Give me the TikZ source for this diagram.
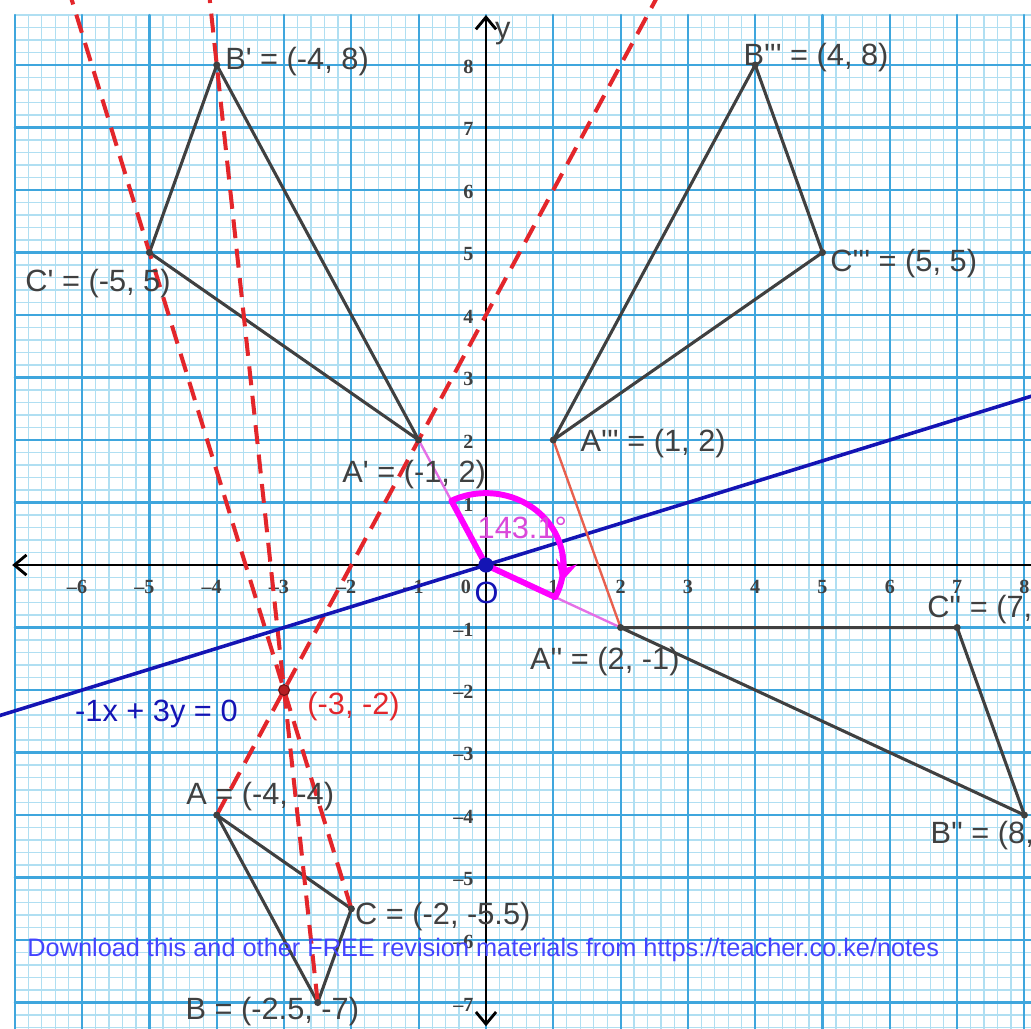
\documentclass[tikz,border=0pt]{standalone}
\usepackage{fontspec}
\setmainfont{Liberation Sans}
\newfontfamily\tickfont{Liberation Serif}
\usetikzlibrary{arrows.meta, calc}
\definecolor{gridmajor}{HTML}{3FA6DD}
\definecolor{gridminor}{HTML}{B0DFF2}
\definecolor{edgegray}{HTML}{404040}
\definecolor{dashred}{HTML}{E3262B}
\definecolor{linblue}{HTML}{1414B4}
\definecolor{angmag}{HTML}{FF00FF}
\definecolor{angtext}{HTML}{DA48DA}
\definecolor{pinkline}{HTML}{E46FE6}
\definecolor{salmon}{HTML}{E8604E}
\definecolor{notesblue}{HTML}{4444FF}
\newcommand{\pr}{\textquotesingle}

\begin{document}
\begin{tikzpicture}[x=1cm, y=0.9287cm, line cap=round, line join=round, font=\fontsize{13}{15}\selectfont,
  minorgrid/.style={gridminor, line width=0.5pt},
  majorgrid/.style={gridmajor, line width=0.9pt},
  axisline/.style={black, line width=1.2pt, {Straight Barb[length=1.8mm,width=3mm]}-{Straight Barb[length=1.8mm,width=3mm]}},
  ticklab/.style={font=\tickfont\bfseries\fontsize{8.5}{9}\selectfont, text=black!75, inner sep=0pt},
  tri/.style={edgegray, line width=1.3pt},
  trace/.style={dashred, line width=1.7pt, dash pattern=on 8pt off 4.5pt, line cap=butt},
  lab/.style={anchor=west, inner sep=0pt, text=edgegray}]

% --- Cornice ---
\useasboundingbox (-7.221,-7.408) rectangle (8.098,9.04);
\clip (-7.221,-7.408) rectangle (8.098,9.04);
\fill[white] (-7.221,-7.408) rectangle (8.098,9.04);

% --- Carta millimetrata ---
\foreach \i in {-35,...,41} \draw[minorgrid] (\i/5,-7.5) -- (\i/5,8.8);
\foreach \j in {-37,...,44} \draw[minorgrid] (-7,\j/5) -- (8.2,\j/5);
\foreach \i in {-7,...,8} \draw[majorgrid] (\i,-7.5) -- (\i,8.8);
\foreach \j in {-7,...,8} \draw[majorgrid] (-7,\j) -- (8.2,\j);

% --- Numeri sugli assi ---
\foreach \k in {-6,...,-1}
  \node[ticklab, anchor=base east] at (\k+0.08,-0.45) {\textendash\the\numexpr-\k\relax};
\foreach \k in {1,...,8}
  \node[ticklab, anchor=base] at (\k,-0.45) {\k};
\node[ticklab, anchor=base] (zero) at (-0.3,-0.45) {0};
\foreach \k in {-7,...,-1}
  \node[ticklab, anchor=east] at (-0.18,\k-0.03) {\textendash\the\numexpr-\k\relax};
\foreach \k in {1,...,8}
  \node[ticklab, anchor=east] at (-0.18,\k-0.03) {\k};

% --- Assi ---
\coordinate (xl) at (-7.04,0);
\coordinate (xr) at (8.5,0);
\coordinate (yb) at (0,-7.38);
\coordinate (yt) at (0,8.8);
\draw[axisline] (xl) -- (xr);
\draw[axisline] (yb) -- (yt);
\node[anchor=west, inner sep=0pt, text=edgegray] (ylab) at (0.13,8.51) {y};

% --- Punti ---
\coordinate (O) at (0,0);
\coordinate (P) at (-3,-2);
\coordinate (A) at (-4,-4);
\coordinate (B) at (-2.5,-7);
\coordinate (C) at (-2,-5.5);
\coordinate (A1) at (-1,2);
\coordinate (B1) at (-4,8);
\coordinate (C1) at (-5,5);
\coordinate (A2) at (2,-1);
\coordinate (B2) at (8,-4);
\coordinate (C2) at (7,-1);
\coordinate (A3) at (1,2);
\coordinate (B3) at (4,8);
\coordinate (C3) at (5,5);
\coordinate (Q) at (3,1);

% --- Triangoli ---
\draw[tri] (A) -- (B) -- (C) -- cycle;
\draw[tri] (A1) -- (B1) -- (C1) -- cycle;
\draw[tri] (A2) -- (B2) -- (C2) -- cycle;
\draw[tri] (A3) -- (B3) -- (C3) -- cycle;

% --- Rette tratteggiate per il centro (-3,-2) ---
\draw[trace] (A) -- ($(A)!2.3!(A1)$);
\draw[trace] (B) -- ($(B)!1.1!(B1)$);
\draw[trace] (C) -- ($(C)!1.45!(C1)$);

% --- Retta -x + 3y = 0 ---
\draw[linblue, line width=1.5pt] ($(O)!-2.5!(Q)$) -- ($(O)!2.8!(Q)$);

% --- Rotazione ---
\draw[pinkline, line width=1pt] (A1) -- (O) -- (A2);
\draw[salmon, line width=1pt] (A3) -- (A2);
\draw[angmag, line width=2.5pt]
  (O) -- (116.565:1.15) arc[start angle=116.565, end angle=-26.565, radius=1.15] -- cycle;
\draw[angmag, line width=2.5pt, -{Stealth[length=3.2mm,width=3.2mm]}]
  (8:1.15) arc[start angle=8, end angle=-14, radius=1.15];

% --- Vertici ---
\foreach \p in {A,B,C,A1,B1,C1,A2,B2,C2,A3,B3,C3}
  \fill[edgegray] (\p) circle[radius=1.5pt];
\filldraw[fill=dashred!80!black, draw=dashred!50!black, line width=0.5pt] (P) circle[radius=2.3pt];
\fill[linblue] (O) circle[radius=3.2pt];

% --- Etichette ---
\node[lab] (labB1) at (-3.88,8.06) {B\pr{} = (-4, 8)};
\node[lab] (labB3) at (3.82,8.12) {B\pr\pr\pr{} = (4, 8)};
\node[lab] (labC1) at (-6.85,4.50) {C\pr{} = (-5, 5)};
\node[lab] (labC3) at (5.11,4.82) {C\pr\pr\pr{} = (5, 5)};
\node[lab] (labA1) at (-2.14,1.44) {A\pr{} = (-1, 2)};
\node[lab] (labA3) at (1.40,1.95) {A\pr\pr\pr{} = (1, 2)};
\node[lab] (labA2) at (0.65,-1.55) {A\pr\pr{} = (2, -1)};
\node[lab] (labC2) at (6.55,-0.72) {C\pr\pr{} = (7, -1)};
\node[lab] (labB2) at (6.60,-4.32) {B\pr\pr{} = (8, -4)};
\node[lab] (labA) at (-4.46,-3.70) {A = (-4, -4)};
\node[lab] (labC) at (-1.95,-5.63) {C = (-2, -5.5)};
\node[lab] (labB) at (-4.47,-7.15) {B = (-2.5, -7)};
\node[lab, text=dashred] (labP) at (-2.66,-2.26) {(-3, -2)};
\node[lab, text=linblue] (labline) at (-6.11,-2.38) {-1x + 3y = 0};
\node[lab, text=angtext] (labang) at (-0.13,0.60) {143.1°};
\node[inner sep=0pt, text=linblue] (labO) at (0.01,-0.45) {O};

% --- Nota ---
\node[anchor=west, inner sep=0pt, text=notesblue, font=\fontsize{10.7}{12}\selectfont] (notes)
  at (-6.82,-6.16) {Download this and other FREE revision materials from https://teacher.co.ke/notes};
\end{tikzpicture}
\end{document}
